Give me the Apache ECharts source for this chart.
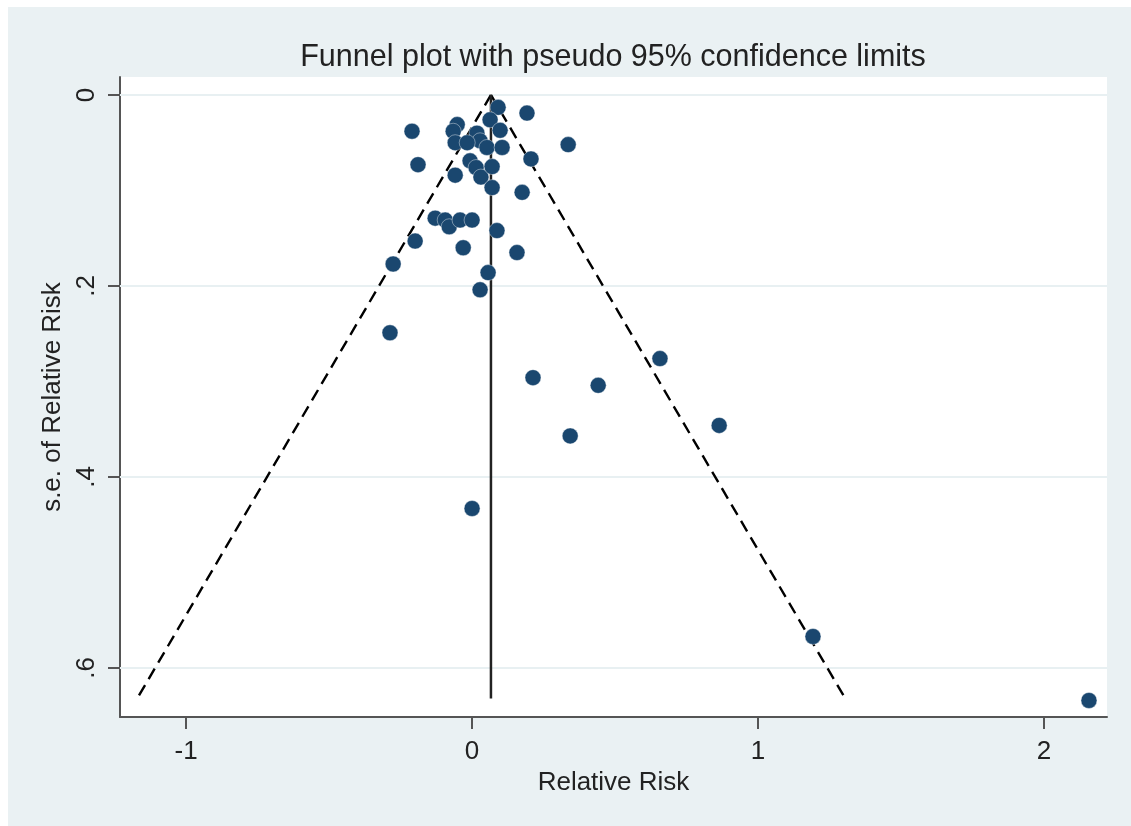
<!DOCTYPE html>
<html><head><meta charset="utf-8">
<script src="https://cdn.jsdelivr.net/npm/echarts@6/dist/echarts.min.js"></script>
<style>
html,body{margin:0;padding:0;background:#fff;width:1131px;height:826px;overflow:hidden}
#c{position:absolute;left:8px;top:7px;width:1123px;height:819px}
</style>
</head><body><div id="c"></div>
<script>
// Study estimates (Relative Risk) and their standard errors
const relRisk = [0.091, 0.192, -0.210, -0.052, -0.066, 0.017, 0.028, 0.063, 0.098, -0.059,
                 -0.017, 0.052, 0.105, 0.336, -0.189, -0.007, 0.014, 0.031, 0.070, 0.206,
                 -0.059, 0.070, 0.175, -0.129, -0.094, -0.080, -0.042, 0.000, -0.199, 0.087,
                 -0.031, 0.157, -0.276, 0.056, 0.028, -0.287, 0.657, 0.213, 0.441, 0.343,
                 0.864, 0.000, 1.192, 2.157];
const seRR    = [0.013, 0.019, 0.038, 0.031, 0.038, 0.040, 0.048, 0.026, 0.037, 0.050,
                 0.050, 0.055, 0.055, 0.052, 0.073, 0.069, 0.076, 0.086, 0.075, 0.067,
                 0.084, 0.097, 0.102, 0.129, 0.131, 0.138, 0.131, 0.131, 0.153, 0.142,
                 0.160, 0.165, 0.177, 0.186, 0.204, 0.249, 0.276, 0.296, 0.304, 0.357,
                 0.346, 0.433, 0.567, 0.634];
// Pooled estimate line and pseudo 95% limit lines (end points)
const pooledLine  = [[0.066, 0], [0.066, 0.632]];
const lowerLimit  = [[0.066, 0], [-1.171, 0.632]];
const upperLimit  = [[0.066, 0], [1.305, 0.632]];
// Axes
const xTicks = [-1, 0, 1, 2];
const xTickLabels = ['-1', '0', '1', '2'];
const yTicks = [0, 0.2, 0.4, 0.6];
const yTickLabels = ['0', '.2', '.4', '.6'];
const xRange = [-1.231, 2.220];
const yRange = [-0.0188, 0.6513];
const titleText = 'Funnel plot with pseudo 95% confidence limits';
const xName = 'Relative Risk';
const yName = 's.e. of Relative Risk';

const FONT = '"Liberation Sans", Arial, Helvetica, sans-serif';
const TXT = '#222';
const AX = '#555';

const chart = echarts.init(document.getElementById('c'), null, {renderer: 'canvas'});
const pts = relRisk.map((v, i) => [v, seRR[i]]);
const gridSeries = yTicks.map(v => ({
  type: 'line', data: [[xRange[0], v], [xRange[1], v]], symbol: 'none', silent: true, z: 1,
  lineStyle: {color: '#E8F0F2', width: 2}, animation: false
}));

chart.setOption({
  backgroundColor: '#EAF1F3',
  animation: false,
  graphic: [{
    type: 'text', x: 605, y: 51, silent: true,
    style: {text: titleText, x: 0, y: 0, textAlign: 'center', textVerticalAlign: 'middle',
            font: '30.5px ' + FONT, fill: TXT}
  }],
  grid: {left: 112, top: 70, right: 24, bottom: 109, show: true, backgroundColor: '#ffffff', borderWidth: 0},
  xAxis: {
    type: 'value', min: xRange[0], max: xRange[1],
    name: xName, nameLocation: 'middle', nameGap: 51,
    nameTextStyle: {fontFamily: FONT, fontSize: 26, color: TXT},
    axisLine: {show: true, onZero: false, lineStyle: {color: AX, width: 2}},
    axisTick: {show: true, length: 12, lineStyle: {color: AX, width: 2}, customValues: xTicks},
    axisLabel: {customValues: xTicks, margin: 22, fontFamily: FONT, fontSize: 26, color: TXT,
                formatter: v => xTickLabels[xTicks.indexOf(v)] ?? String(v)},
    splitLine: {show: false}
  },
  yAxis: {
    type: 'value', inverse: true, min: yRange[0], max: yRange[1],
    name: yName, nameLocation: 'middle', nameGap: 52, nameRotate: 90,
    nameTextStyle: {fontFamily: FONT, fontSize: 26, color: TXT},
    axisLine: {show: true, onZero: false, lineStyle: {color: AX, width: 2}},
    axisTick: {show: true, length: 12, lineStyle: {color: AX, width: 2}, customValues: yTicks},
    axisLabel: {customValues: yTicks, margin: 20, rotate: 90, fontFamily: FONT, fontSize: 26, color: TXT,
                formatter: v => { const k = yTicks.findIndex(t => Math.abs(t - v) < 1e-9); return k >= 0 ? yTickLabels[k] : ''; }},
    splitLine: {show: false}
  },
  series: [
    ...gridSeries,
    {type: 'line', data: lowerLimit, symbol: 'none', z: 2, lineStyle: {color: '#000', width: 2.4, type: [12, 7]}},
    {type: 'line', data: upperLimit, symbol: 'none', z: 2, lineStyle: {color: '#000', width: 2.4, type: [12, 7]}},
    {type: 'line', data: pooledLine, symbol: 'none', z: 2, lineStyle: {color: '#222', width: 2.5}},
    {type: 'scatter', data: pts, symbol: 'circle', symbolSize: 16, z: 3,
     itemStyle: {color: '#1a476f', borderColor: 'rgba(255,255,255,0.5)', borderWidth: 0.8, opacity: 1}}
  ]
});
</script>
</body></html>
